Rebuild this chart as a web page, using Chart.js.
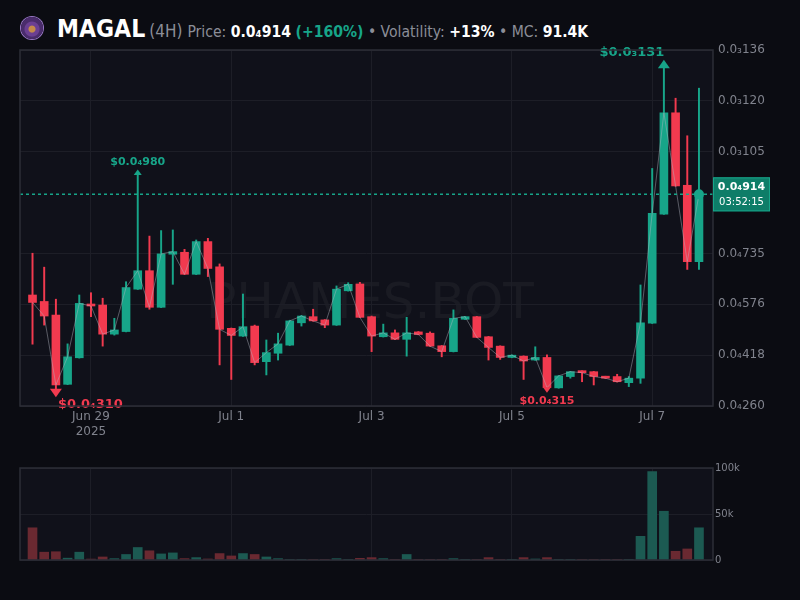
<!DOCTYPE html>
<html>
<head>
<meta charset="utf-8">
<script src="https://cdn.jsdelivr.net/npm/chart.js@4.4.1/dist/chart.umd.min.js"></script>
<style>
  body { margin: 0; background: #0b0c12; width: 800px; height: 600px; overflow: hidden; font-family: "DejaVu Sans", sans-serif; }
  #hdr { position: absolute; left: 21px; top: 14px; height: 28px; display: flex; align-items: baseline; white-space: nowrap; color: #8b8e98; font-size: 15.6px; font-family: "DejaVu Sans Condensed", "DejaVu Sans", sans-serif; }
  #logo { position: absolute; left: 0; top: 3px; width: 22px; height: 22px; border-radius: 50%;
          background: radial-gradient(circle at 50% 55%, #c58a4a 0 3px, #6b3f92 4px 7px, #4a2c6c 8px); box-shadow: 0 0 0 1px #9a78c8; }
  #hdr .t { margin-left: 36px; color: #fff; font-weight: bold; font-size: 24.5px; }
  #hdr b { color: #fff; }
  #hdr .g { color: #17a589; }
  #main { position: absolute; left: 0; top: 0; }
  #vol { position: absolute; left: 0; top: 458px; }
</style>
</head>
<body>
<div id="hdr">
  <div id="logo"></div>
  <span class="t">MAGAL</span>
  <span style="font-size:17px;margin-left:4px">(4H)</span>
  <span style="margin-left:5px">Price: <b>0.0₄914</b> <b class="g">(+160%)</b> • Volatility: <b>+13%</b> • MC: <b>91.4K</b></span>
</div>
<canvas id="main" width="800" height="450"></canvas>
<canvas id="vol" width="800" height="112"></canvas>
<script>
'use strict'

// prices in units of 1e-6 (0.0₄914 = 91.4)
let opens = [60.3, 58.3, 54.1, 32.7, 40.9, 57.5, 57.2, 48.2, 49.0, 62.1, 67.8, 56.5, 72.9, 73.5, 66.7, 76.8, 69.0, 50.0, 47.6, 50.7,
  39.7, 42.3, 44.8, 51.7, 53.6, 52.6, 51.0, 61.6, 63.7, 53.6, 47.4, 48.6, 46.6, 48.9, 48.5, 44.6, 42.8, 52.8, 53.6, 47.4,
  44.5, 41.0, 41.4, 40.2, 41.0, 31.6, 35.1, 36.8, 36.6, 35.1, 35.1, 33.2, 34.6, 51.6, 85.3, 116.6, 94.2, 70.6];
let highs = [73.2, 68.9, 59.0, 45.2, 60.3, 61.0, 59.3, 53.1, 64.4, 98.0, 78.5, 80.2, 80.4, 74.4, 77.3, 77.8, 69.9, 50.1, 60.6, 51.0,
  46.4, 48.5, 52.5, 54.0, 55.9, 52.7, 63.1, 64.1, 64.2, 53.8, 51.3, 49.5, 53.4, 49.0, 48.9, 44.7, 55.7, 53.7, 53.7, 47.5,
  44.6, 41.8, 41.5, 44.3, 41.8, 35.4, 36.7, 36.9, 36.7, 35.2, 35.8, 35.1, 63.4, 99.4, 131.0, 121.1, 109.5, 124.2];
let lows = [45.1, 51.0, 31.0, 32.6, 40.8, 53.6, 44.5, 47.9, 48.9, 62.0, 55.9, 56.4, 63.6, 66.6, 66.6, 66.0, 38.7, 34.2, 47.5, 38.7,
  35.6, 40.2, 44.7, 50.7, 52.2, 50.2, 50.9, 61.5, 53.3, 42.8, 47.3, 46.5, 41.4, 48.0, 44.4, 41.2, 42.7, 52.7, 47.1, 40.2,
  40.4, 40.9, 34.2, 40.1, 31.5, 31.5, 34.6, 33.5, 32.5, 34.5, 33.4, 32.0, 33.0, 51.5, 85.2, 93.9, 68.2, 68.2];
let closes = [58.0, 53.8, 32.5, 41.2, 57.7, 56.9, 48.2, 49.5, 62.6, 67.8, 56.5, 73.0, 73.7, 66.7, 76.8, 68.5, 49.7, 47.8, 50.5, 39.4,
  42.5, 45.2, 52.3, 53.8, 52.3, 51.0, 62.1, 63.6, 53.4, 47.6, 48.6, 46.6, 48.6, 48.1, 44.5, 42.8, 53.1, 53.6, 47.2, 44.1,
  41.0, 41.7, 39.9, 41.0, 31.7, 35.3, 36.6, 36.3, 35.1, 34.6, 33.5, 34.6, 51.7, 85.5, 116.6, 94.0, 70.6, 91.4];
// volume in thousands
let volumes = [35, 8.5, 9, 2, 8.5, 1, 3.3, 1.5, 6, 13.6, 10, 6.6, 7.7, 1.5, 2.6, 1.1, 7, 4.4, 7, 6,
  3.3, 1.5, 0.4, 0.2, 0.4, 0.2, 1.5, 0.2, 1.8, 2.6, 1.5, 0.3, 6, 0.2, 0.2, 0.4, 1.5, 0.2, 0.2, 2.6,
  0.3, 0.2, 2.6, 1.1, 2.6, 0.3, 0.2, 0.4, 0.4, 0.2, 0.2, 0.2, 25.7, 96, 53, 9.5, 12, 35];

// first candle is Jun 28 04:00, 4h candles
let xTickIndex = [5, 17, 29, 41, 53];
let xTickLabels = [["Jun 29", "2025"], "Jul 1", "Jul 3", "Jul 5", "Jul 7"];
let yTickValues = [26.0, 41.71, 57.43, 73.14, 104.57, 120.29, 136.0];
let yTickLabels = ["0.0₄260", "0.0₄418", "0.0₄576", "0.0₄735", "0.0₃105", "0.0₃120", "0.0₃136"];
let volTickValues = [0, 50, 100];
let volTickLabels = ["0", "50k", "100k"];

let currentPrice = 91.4;
let priceLabel = "0.0₄914";
let countdown = "03:52:15";
let markers = [
  { i: 9, value: 98.0, text: "$0.0₄980", up: true, big: false },
  { i: 2, value: 31.0, text: "$0.0₄310", up: false, big: true },
  { i: 44, value: 31.5, text: "$0.0₄315", up: false, big: false },
  { i: 54, value: 131.0, text: "$0.0₃131", up: true, big: true },
];

let GREEN = "#17a589";
let RED = "#f23a4f";
let AREA_BG = "#10111a";
let GRID = "#1d1e27";
let FRAME = "#2c2e37";
let TICK = "#80838d";
let FONT = "DejaVu Sans";

let idx = opens.map(function (o, i) { return i; });
let isUp = idx.map(function (i) { return closes[i] >= opens[i]; });
let candleColors = isUp.map(function (u) { return u ? GREEN : RED; });
let volColors = isUp.map(function (u) { return u ? "#1c5a52" : "#6a2931"; });

let xMin = -1.07;
let xMax = 58.2;

function frameAndBg(watermark) {
  return {
    id: "frameAndBg",
    beforeDraw(chart) {
      let a = chart.chartArea, ctx = chart.ctx;
      ctx.save();
      ctx.fillStyle = AREA_BG;
      ctx.fillRect(a.left, a.top, a.right - a.left, a.bottom - a.top);
      if (watermark) {
        ctx.fillStyle = "rgba(255,255,255,0.045)";
        ctx.font = "50px " + FONT;
        ctx.textAlign = "center";
        ctx.textBaseline = "middle";
        ctx.fillText("PHAMES.BOT", 370, 305);
      }
      ctx.restore();
    },
    afterDraw(chart) {
      let a = chart.chartArea, ctx = chart.ctx;
      ctx.save();
      ctx.strokeStyle = FRAME;
      ctx.lineWidth = 1.5;
      ctx.strokeRect(a.left, a.top, a.right - a.left, a.bottom - a.top);
      ctx.restore();
    },
  };
}

let overlay = {
  id: "overlay",
  afterDatasetsDraw(chart) {
    let ctx = chart.ctx, xs = chart.scales.x, ys = chart.scales.y, a = chart.chartArea;
    ctx.save();
    // current price line
    let py = ys.getPixelForValue(currentPrice);
    ctx.strokeStyle = GREEN;
    ctx.lineWidth = 1.5;
    ctx.setLineDash([3, 3]);
    ctx.beginPath();
    ctx.moveTo(a.left, py);
    ctx.lineTo(a.right, py);
    ctx.stroke();
    ctx.setLineDash([]);
    ctx.fillStyle = GREEN;
    ctx.beginPath();
    ctx.arc(xs.getPixelForValue(idx.length - 1), py, 5, 0, Math.PI * 2);
    ctx.fill();

    // high / low markers
    markers.forEach(function (m) {
      let x = xs.getPixelForValue(m.i);
      let y = ys.getPixelForValue(m.value);
      let color = m.up ? GREEN : RED;
      let s = m.big ? 6 : 4;
      ctx.fillStyle = color;
      ctx.beginPath();
      if (m.up) {
        ctx.moveTo(x - s, y + 2);
        ctx.lineTo(x + s, y + 2);
        ctx.lineTo(x, y + 2 - s * 1.4);
      } else {
        ctx.moveTo(x - s, y - 1);
        ctx.lineTo(x + s, y - 1);
        ctx.lineTo(x, y - 1 + s * 1.4);
      }
      ctx.fill();
      ctx.font = "bold " + (m.big ? 13 : 11) + "px " + FONT;
      ctx.textBaseline = "middle";
      if (m.up) {
        ctx.textAlign = "center";
        ctx.fillText(m.text, m.big ? x - 32 : x, y - (m.big ? 14 : 11));
      } else if (m.big) {
        ctx.textAlign = "left";
        ctx.fillText(m.text, x + 2, y + 15);
      } else {
        ctx.textAlign = "center";
        ctx.fillText(m.text, x, y + 13);
      }
    });
    ctx.restore();
  },
  afterDraw(chart) {
    let ctx = chart.ctx, ys = chart.scales.y, a = chart.chartArea;
    let py = ys.getPixelForValue(currentPrice);
    ctx.save();
    ctx.fillStyle = "#0e7d68";
    ctx.fillRect(a.right, py - 17, 57, 34);
    ctx.strokeStyle = GREEN;
    ctx.lineWidth = 1;
    ctx.strokeRect(a.right + 0.5, py - 16.5, 56, 33);
    ctx.fillStyle = "#fff";
    ctx.textAlign = "center";
    ctx.textBaseline = "middle";
    ctx.font = "bold 11px " + FONT;
    ctx.fillText(priceLabel, a.right + 28.5, py - 7);
    ctx.font = "10px " + FONT;
    ctx.fillText(countdown, a.right + 28.5, py + 8);
    ctx.restore();
  },
};

Chart.defaults.font.family = FONT;
Chart.defaults.color = TICK;

let xScale = {
  type: "linear",
  min: xMin,
  max: xMax,
  offset: false,
  bounds: "ticks",
  afterBuildTicks(scale) { scale.ticks = xTickIndex.map(function (v) { return { value: v }; }); },
  afterDataLimits(scale) { scale.min = xMin; scale.max = xMax; },
  grid: { color: GRID, drawTicks: false, offset: false },
  border: { display: false },
};

let mainChart = new Chart(document.getElementById("main").getContext("2d"), {
  type: "bar",
  data: {
    datasets: [
      {
        type: "line",
        data: idx.map(function (i) { return { x: i, y: closes[i] }; }),
        borderColor: "rgba(180,182,192,0.45)",
        borderWidth: 1,
        pointRadius: 0,
        order: 0,
      },
      {
        data: idx.map(function (i) { return { x: i, y: [opens[i], closes[i]] }; }),
        backgroundColor: candleColors,
        barThickness: 8,
        minBarLength: 2,
        grouped: false,
        order: 1,
      },
      {
        data: idx.map(function (i) { return { x: i, y: [lows[i], highs[i]] }; }),
        backgroundColor: candleColors,
        barThickness: 1.3,
        grouped: false,
        order: 2,
      },
    ],
  },
  options: {
    responsive: false,
    animation: false,
    devicePixelRatio: 1,
    layout: { padding: { left: 20, top: 50, right: 0, bottom: 0 } },
    plugins: { legend: { display: false }, tooltip: { enabled: false } },
    scales: {
      x: Object.assign({}, xScale, {
        afterFit(scale) { scale.height = 44; },
        ticks: {
          autoSkip: false,
          maxRotation: 0,
          padding: 4,
          font: { size: 12 },
          color: TICK,
          callback(v) { return xTickLabels[xTickIndex.indexOf(v)]; },
        },
      }),
      y: {
        position: "right",
        min: 26.0,
        max: 136.0,
        afterBuildTicks(scale) { scale.ticks = yTickValues.map(function (v) { return { value: v }; }); },
        afterFit(scale) { scale.width = 87; },
        ticks: {
          padding: 5,
          font: { size: 12 },
          color: TICK,
          callback(v) { return yTickLabels[yTickValues.indexOf(v)]; },
        },
        grid: { color: GRID, drawTicks: false },
        border: { display: false },
      },
    },
  },
  plugins: [frameAndBg(true), overlay],
});

let volChart = new Chart(document.getElementById("vol").getContext("2d"), {
  type: "bar",
  data: {
    datasets: [
      {
        data: idx.map(function (i) { return { x: i, y: volumes[i] }; }),
        backgroundColor: volColors,
        barThickness: 9,
      },
    ],
  },
  options: {
    responsive: false,
    animation: false,
    devicePixelRatio: 1,
    layout: { padding: { left: 20, top: 10, right: 0, bottom: 10 } },
    plugins: { legend: { display: false }, tooltip: { enabled: false } },
    scales: {
      x: Object.assign({}, xScale, {
        afterFit(scale) { scale.height = 0; },
        ticks: { display: false },
      }),
      y: {
        position: "right",
        min: 0,
        max: 100,
        afterBuildTicks(scale) { scale.ticks = volTickValues.map(function (v) { return { value: v }; }); },
        afterFit(scale) { scale.width = 87; },
        ticks: {
          padding: 2,
          font: { size: 10 },
          color: TICK,
          callback(v) { return volTickLabels[volTickValues.indexOf(v)]; },
        },
        grid: { color: GRID, drawTicks: false },
        border: { display: false },
      },
    },
  },
  plugins: [frameAndBg(false)],
});
</script>
</body>
</html>
